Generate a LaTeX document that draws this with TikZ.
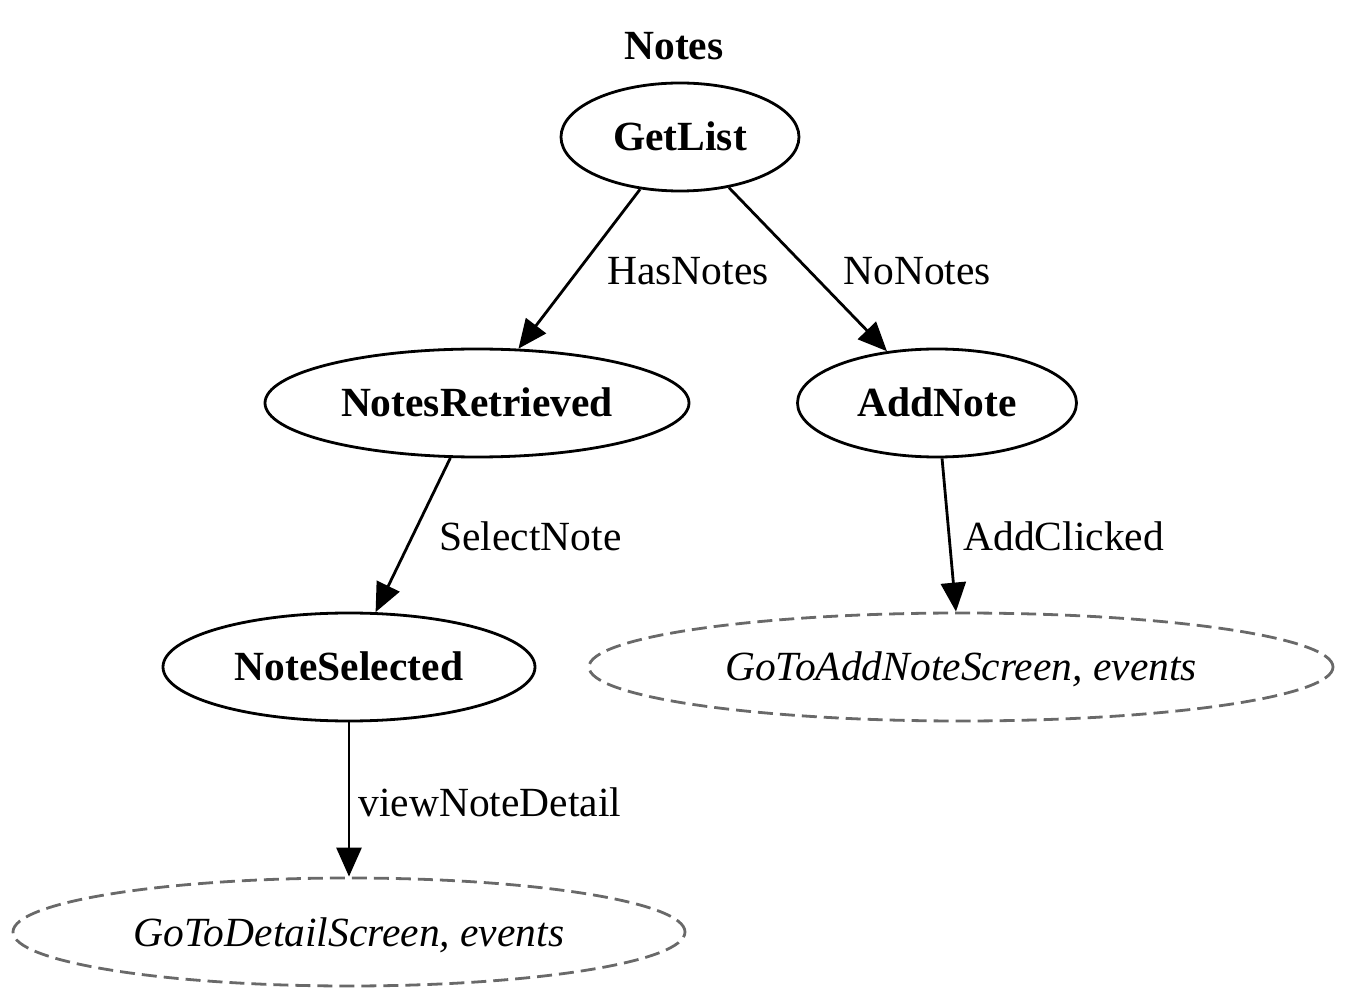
\documentclass[tikz,border=0pt]{standalone}
\usepackage{fontspec}
\setmainfont{Liberation Serif}
\usetikzlibrary{shapes.geometric,arrows.meta}
\definecolor{dgray}{RGB}{105,105,105}
\begin{document}
\begin{tikzpicture}[x=0.5pt,y=-0.5pt,
  lbl/.style={font=\fontsize{20.75pt}{24pt}\selectfont},
  state/.style={ellipse,draw,line width=1.4pt,inner sep=0pt,minimum height=54pt,
    text height=14pt,text depth=0pt,font=\fontsize{20.75pt}{24pt}\selectfont\bfseries},
  outcome/.style={ellipse,draw=dgray,line width=1.4pt,dash pattern=on 7.5pt off 3.5pt,
    inner sep=0pt,minimum height=54pt,text height=14pt,text depth=0pt,
    font=\fontsize{20.75pt}{24pt}\selectfont\itshape},
  edgearrow/.style={line width=1.4pt,-{Triangle[length=14.5pt,width=12.5pt]}},
  elabel/.style={lbl,anchor=base west,inner sep=0pt}]
\useasboundingbox (0,0) rectangle (1346,1000);
\node[lbl,anchor=base,inner sep=0pt,font=\fontsize{20.75pt}{24pt}\selectfont\bfseries] (title) at (674,60) {Notes};
\node[state,minimum width=119pt] (getlist) at (680,137) {GetList};
\node[state,minimum width=212pt] (retrieved) at (477,403) {NotesRetrieved};
\node[state,minimum width=139.5pt] (addnote) at (937,403) {AddNote};
\node[state,minimum width=186pt] (selected) at (349,667) {NoteSelected};
\node[outcome,minimum width=372pt] (goadd) at (961,667) {GoToAddNoteScreen, events};
\node[outcome,minimum width=336pt] (godetail) at (349,932) {GoToDetailScreen, events};
\draw[edgearrow] (getlist) -- (retrieved);
\draw[edgearrow] (getlist) -- (addnote);
\draw[edgearrow] (retrieved) -- (selected);
\draw[edgearrow] (addnote) -- (goadd);
\draw[edgearrow] (selected) -- (godetail);
\node[elabel] (l1) at (607,285) {HasNotes};
\node[elabel] (l2) at (843,285) {NoNotes};
\node[elabel] (l3) at (439,551) {SelectNote};
\node[elabel] (l4) at (963,551) {AddClicked};
\node[elabel] (l5) at (358,816) {viewNoteDetail};
\end{tikzpicture}
\end{document}
